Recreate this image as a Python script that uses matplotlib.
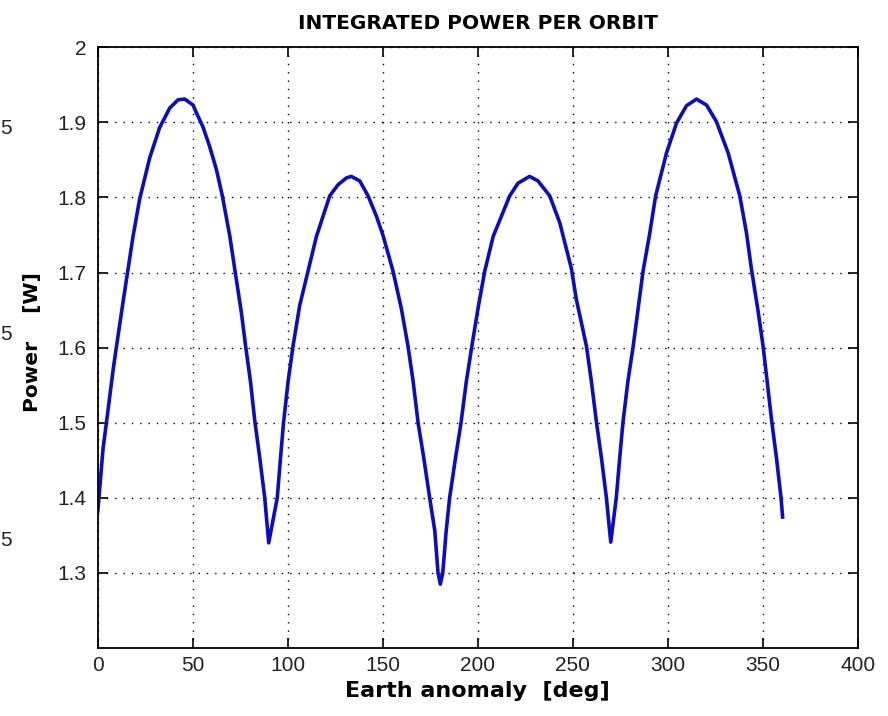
import numpy as np
import matplotlib
matplotlib.use("Agg")
from matplotlib import pyplot as plt

# values, Earth anomaly [deg] vs power [W]
anomaly = [0, 2.8, 4.6, 8.1, 9.8, 13.3, 15.4, 18.6, 22.1, 27.4, 32.6, 37.9, 42.3, 45.8,
           50.2, 51.9, 55.4, 58.9, 62.5, 65.6, 69.5, 72.1, 75.6, 77.9, 80.4, 82.6, 85.3, 87.9, 90,
           94.5, 96.2, 97.8, 100.2, 102.8, 106.3, 110.7, 115.1, 122.1, 126.5, 130.9, 133.5,
           137.9, 142.3, 146.7, 150.2, 155.4, 159.8, 163.3, 166, 168.6, 171.6, 174.7, 177.4,
           179.1, 180.3,
           181.6, 183.4, 185.2, 188.3, 191.2, 194.0, 196.9, 200.4, 203.7, 208.1, 216.8, 221.2,
           227.3, 231.7, 237.9, 243.2, 249.3, 251.9, 257.2, 259.8, 262.5, 265.1, 267.7, 270,
           272.9, 274.7, 276.4, 279, 281.8, 284.4, 287, 290.5, 293.6, 299.3, 304.6, 309.8,
           315.1, 320.4, 325.6, 331.8, 337.9, 341.4, 344, 347.5, 350.2, 352.3, 354.6, 357.2,
           359.6, 360.5]
power = [1.38, 1.465, 1.500, 1.570, 1.600, 1.660, 1.695, 1.748, 1.798, 1.853, 1.893, 1.919, 1.930, 1.931,
         1.923, 1.913, 1.894, 1.868, 1.837, 1.802, 1.749, 1.705, 1.647, 1.601, 1.555, 1.504, 1.453, 1.400, 1.340,
         1.400, 1.453, 1.500, 1.555, 1.602, 1.656, 1.702, 1.748, 1.802, 1.817, 1.826, 1.828,
         1.822, 1.802, 1.775, 1.749, 1.702, 1.652, 1.602, 1.555, 1.500, 1.453, 1.400, 1.356,
         1.300, 1.285,
         1.300, 1.356, 1.400, 1.453, 1.500, 1.555, 1.602, 1.656, 1.702, 1.748, 1.802, 1.819,
         1.828, 1.822, 1.802, 1.766, 1.705, 1.664, 1.602, 1.555, 1.500, 1.453, 1.400, 1.341,
         1.400, 1.453, 1.500, 1.555, 1.602, 1.652, 1.702, 1.752, 1.802, 1.859, 1.899, 1.922,
         1.931, 1.923, 1.901, 1.859, 1.802, 1.753, 1.705, 1.649, 1.601, 1.555, 1.504, 1.453,
         1.400, 1.372]

xticks = [0, 50, 100, 150, 200, 250, 300, 350, 400]
yticks = [1.3, 1.4, 1.5, 1.6, 1.7, 1.8, 1.9, 2.0]
ytick_labels = ["1.3", "1.4", "1.5", "1.6", "1.7", "1.8", "1.9", "2"]

fig = plt.figure(figsize=(8.88, 7.16), dpi=100)
ax = fig.add_axes([0.110, 0.095, 0.856, 0.839])

ax.plot(anomaly, power, color="#0c0cc0", linewidth=2.6,
        solid_joinstyle="round", solid_capstyle="butt")

ax.set_xlim(0, 400)
ax.set_ylim(1.2, 2.0)
ax.set_xticks(xticks)
ax.set_yticks(yticks)
ax.set_yticklabels(ytick_labels)

ax.grid(True, color="black", linestyle=(0, (1, 5)), linewidth=1.0)
ax.tick_params(direction="in", length=7, width=1.2, top=True, right=True,
               labelsize=15, labelcolor="#222222")
ax.tick_params(axis="x", pad=6)
ax.tick_params(axis="y", pad=8)
for lab in ax.get_xticklabels() + ax.get_yticklabels():
    lab.set_fontfamily("Liberation Sans")
for s in ax.spines.values():
    s.set_linewidth(1.3)

ax.set_title("INTEGRATED POWER PER ORBIT", fontsize=14.5, fontweight="bold", pad=13)
ax.set_xlabel("Earth anomaly  [deg]", fontsize=16, fontweight="bold", labelpad=4)
ax.set_ylabel("Power    [W]", fontsize=14.5, fontweight="bold")
ax.yaxis.set_label_coords(-0.073, 0.51)

# fragments of another figure's tick labels at the left edge
for yp in [128, 335, 540]:
    fig.text(0.0, 1 - yp / 716, "5", fontsize=15, family="Liberation Sans",
             ha="left", va="center", color="#222222")

fig.savefig("out.png", dpi=100)
